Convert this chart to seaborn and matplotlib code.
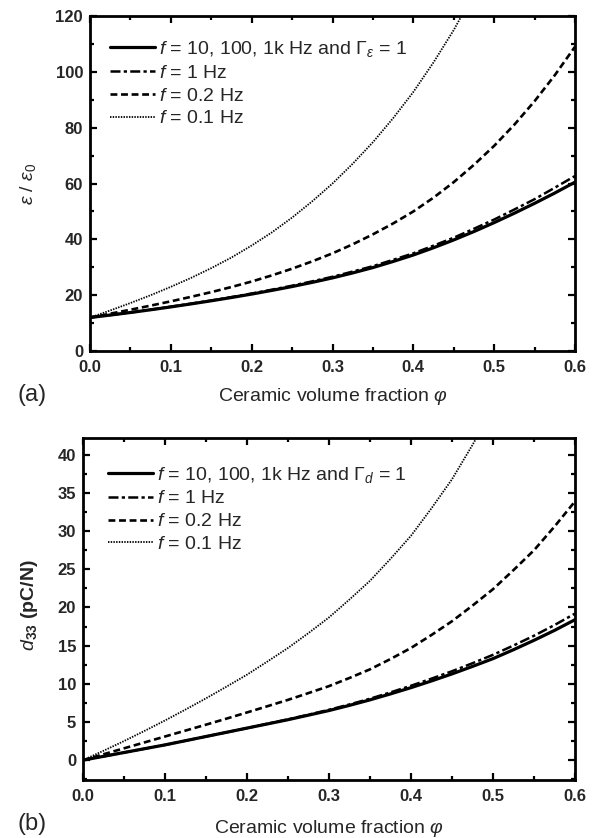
import numpy as np
import pandas as pd
import matplotlib
matplotlib.use("Agg")
import matplotlib.pyplot as plt
import seaborn as sns
from matplotlib.ticker import MultipleLocator, FormatStrFormatter

# ---------------- data ----------------
phi = [0.0, 0.025, 0.05, 0.075, 0.1, 0.125, 0.15, 0.175, 0.2, 0.225, 0.25,
       0.275, 0.3, 0.325, 0.35, 0.375, 0.4, 0.425, 0.45, 0.475, 0.5, 0.525,
       0.55, 0.575, 0.6]

# panel (a): relative permittivity eps/eps0
eps_hi = [12.0, 12.88, 13.8, 14.78, 15.8, 16.88, 18.0, 19.17, 20.4, 21.72,
          23.1, 24.6, 26.2, 27.98, 29.9, 32.08, 34.4, 37.0, 39.8, 42.8, 46.0,
          49.37, 52.9, 56.6, 60.5]
eps_1 = [12.0, 12.9, 13.8, 14.83, 15.9, 16.98, 18.1, 19.33, 20.6, 21.98,
         23.4, 24.97, 26.6, 28.47, 30.4, 32.67, 35.0, 37.75, 40.6, 43.8, 47.1,
         50.7, 54.4, 58.5, 62.7]
eps_02 = [12.0, 13.38, 14.8, 16.27, 17.8, 19.42, 21.1, 22.94, 24.9, 27.1,
          29.5, 32.13, 35.0, 38.23, 41.8, 45.7, 50.0, 54.95, 60.5, 66.7, 73.5,
          81.1, 89.5, 98.8, 109.0]
eps_01 = [12.0, 14.53, 17.2, 20.0, 23.0, 26.2, 29.7, 33.5, 37.8, 42.5, 47.8,
          53.65, 60.0, 67.1, 74.8, 83.4, 92.8, 103.4, 115.0, 128.0, 142.0,
          158.0, 176.0, 196.0, 218.0]

# panel (b): d33 (pC/N)
d33_hi = [0.0, 0.5, 1.0, 1.5, 2.0, 2.55, 3.1, 3.65, 4.2, 4.75, 5.3, 5.9, 6.5,
          7.18, 7.9, 8.68, 9.5, 10.38, 11.3, 12.28, 13.3, 14.47, 15.7, 17.0,
          18.4]
d33_1 = [0.0, 0.5, 1.0, 1.5, 2.0, 2.55, 3.1, 3.65, 4.2, 4.77, 5.35, 5.96, 6.6,
         7.3, 8.05, 8.88, 9.75, 10.68, 11.65, 12.7, 13.8, 15.02, 16.3, 17.7,
         19.2]
d33_02 = [0.0, 0.775, 1.55, 2.325, 3.1, 3.875, 4.65, 5.44, 6.25, 7.07, 7.9,
          8.79, 9.7, 10.77, 11.9, 13.25, 14.7, 16.4, 18.2, 20.25, 22.4, 24.9,
          27.5, 30.6, 33.9]
d33_01 = [0.0, 1.23, 2.5, 3.83, 5.2, 6.63, 8.1, 9.63, 11.2, 12.93, 14.7, 16.65,
          18.7, 21.05, 23.5, 26.37, 29.4, 33.0, 36.8, 41.3, 46.0, 51.6, 57.5,
          64.3, 71.5]

labels_a = [r"$f$ = 10, 100, 1k Hz and $\Gamma_{\varepsilon}$ = 1",
            r"$f$ = 1 Hz", r"$f$ = 0.2 Hz", r"$f$ = 0.1 Hz"]
labels_b = [r"$f$ = 10, 100, 1k Hz and $\Gamma_{d}$ = 1",
            r"$f$ = 1 Hz", r"$f$ = 0.2 Hz", r"$f$ = 0.1 Hz"]

# ---------------- style ----------------
sns.set_theme(style="ticks")
plt.rcParams["font.family"] = ["Liberation Sans", "DejaVu Sans"]
plt.rcParams["mathtext.fontset"] = "custom"
plt.rcParams["mathtext.rm"] = "Liberation Sans"
plt.rcParams["mathtext.it"] = "Liberation Sans:italic"
plt.rcParams["mathtext.bf"] = "Liberation Sans:bold"

line_styles = [
    dict(linestyle="-", lw=2.3),
    dict(linestyle=(0, (4, 1.3, 1.3, 1.3)), lw=1.8),
    dict(linestyle=(0, (2.6, 1.4)), lw=1.9),
    dict(linestyle=(0, (0.8, 0.7)), lw=1.3),
]

fig = plt.figure(figsize=(5.95, 8.38), dpi=100)
ax_a = fig.add_axes([0.1513, 0.5811, 0.8151, 0.3998])
ax_b = fig.add_axes([0.1395, 0.0692, 0.8269, 0.4081])


def draw(ax, series, labels, xlab_y, leg_anchor):
    for vals, lab, st in zip(series, labels, line_styles):
        df = pd.DataFrame({"phi": phi, "val": vals})
        sns.lineplot(data=df, x="phi", y="val", ax=ax, color="black",
                     label=lab, **st)
    ax.set_xlim(0.0, 0.6)
    ax.xaxis.set_major_locator(MultipleLocator(0.1))
    ax.xaxis.set_minor_locator(MultipleLocator(0.05))
    ax.xaxis.set_major_formatter(FormatStrFormatter("%.1f"))
    ax.tick_params(which="both", direction="in", top=True, right=True,
                   width=1.6, color="black")
    ax.tick_params(which="major", length=5, labelsize=12)
    ax.tick_params(axis="x", which="major", pad=6.5)
    ax.tick_params(axis="y", which="major", pad=5)
    ax.tick_params(which="minor", length=2.6)
    for sp in ax.spines.values():
        sp.set_linewidth(2.0)
        sp.set_color("black")
        sp.set_visible(True)
    ax.set_xlabel(r"Ceramic volume fraction $\varphi$", fontsize=14)
    ax.xaxis.set_label_coords(0.5, xlab_y)
    ax.legend(loc="upper left", frameon=False, fontsize=14,
              handlelength=2.3, handletextpad=0.2, labelspacing=0.27,
              borderaxespad=0.0, bbox_to_anchor=leg_anchor)


draw(ax_a, [eps_hi, eps_1, eps_02, eps_01], labels_a, -0.105, (0.025, 0.955))
ax_a.set_ylim(0, 120)
ax_a.yaxis.set_major_locator(MultipleLocator(20))
ax_a.yaxis.set_minor_locator(MultipleLocator(10))
ax_a.set_ylabel(r"$\varepsilon\ /\ \varepsilon_0$", fontsize=14)
ax_a.yaxis.set_label_coords(-0.108, 0.5)

draw(ax_b, [d33_hi, d33_1, d33_02, d33_01], labels_b, -0.112, (0.035, 0.945))
ax_b.set_ylim(-2.6, 42.2)
ax_b.yaxis.set_major_locator(MultipleLocator(5))
ax_b.yaxis.set_minor_locator(MultipleLocator(2.5))
ax_b.yaxis.set_major_formatter(FormatStrFormatter("%d"))
ax_b.set_ylabel(r"$\mathbf{\mathit{d}}_{\mathbf{33}}$ (pC/N)", fontsize=14,
                fontweight="bold")
ax_b.yaxis.set_label_coords(-0.088, 0.51)

for ax in (ax_a, ax_b):
    for lbl in ax.get_xticklabels() + ax.get_yticklabels():
        lbl.set_fontweight("bold")

fig.text(0.03, 1 - 395 / 838, "(a)", fontsize=17, va="center", ha="left")
fig.text(0.03, 1 - 824 / 838, "(b)", fontsize=17, va="center", ha="left")

fig.savefig("out.png", dpi=100)
